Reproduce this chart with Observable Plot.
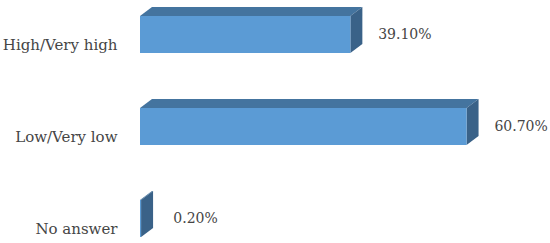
<!DOCTYPE html>
<html><head><meta charset="utf-8">
<script src="https://cdn.jsdelivr.net/npm/d3@7"></script>
<script src="https://cdn.jsdelivr.net/npm/@observablehq/plot@0.6"></script>
<style>body{margin:0;background:#fff}</style>
</head><body><div id="chart"></div>
<script>
const categories = ["High/Very high", "Low/Very low", "No answer"];
const values = [39.1, 60.7, 0.2];
const valueLabels = ["39.10%", "60.70%", "0.20%"];

const data = categories.map((c, i) => ({category: c, value: values[i], label: valueLabels[i]}));

const FRONT = "#5B9BD5", TOP = "#44749F", SIDE = "#3A6288";
const DX = 12, DY = 9;

function bar3d(index, scales, vals) {
  const X1 = vals.x1, X2 = vals.x2, Y = vals.y;
  const bw = scales.y.bandwidth();
  const g = d3.create("svg:g");
  for (const i of index) {
    const a = Math.min(X1[i], X2[i]), b = Math.max(X1[i], X2[i]);
    const y0 = Y[i], y1 = Y[i] + bw;
    g.append("path").attr("fill", TOP)
      .attr("d", `M${a},${y0}L${a + DX},${y0 - DY}L${b + DX},${y0 - DY}L${b},${y0}Z`);
    g.append("path").attr("fill", SIDE)
      .attr("d", `M${b},${y0}L${b + DX},${y0 - DY}L${b + DX},${y1 - DY}L${b},${y1}Z`);
    g.append("rect").attr("fill", FRONT)
      .attr("x", a).attr("y", y0).attr("width", Math.max(0, b - a)).attr("height", bw);
  }
  return g.node();
}

const chart = Plot.plot({
  width: 550,
  height: 243,
  marginLeft: 140,
  marginRight: 33.4,
  marginTop: 16,
  marginBottom: 6.2,
  style: {fontFamily: "DejaVu Serif", fontSize: "14px", color: "#454545", background: "#fff"},
  x: {domain: [0, 70], axis: null},
  y: {domain: categories, paddingInner: 0.6, paddingOuter: 0, label: null},
  marks: [
    Plot.barX(data, {x: "value", y: "category", render: bar3d}),
    Plot.axisY({tickSize: 0, tickPadding: 23, dy: 10, fontSize: 15, label: null}),
    Plot.text(data, {x: "value", y: "category", text: "label", dx: 54, textAnchor: "middle", fill: "#454545", fontSize: 14})
  ]
});
document.getElementById("chart").append(chart);
</script>
</body></html>
